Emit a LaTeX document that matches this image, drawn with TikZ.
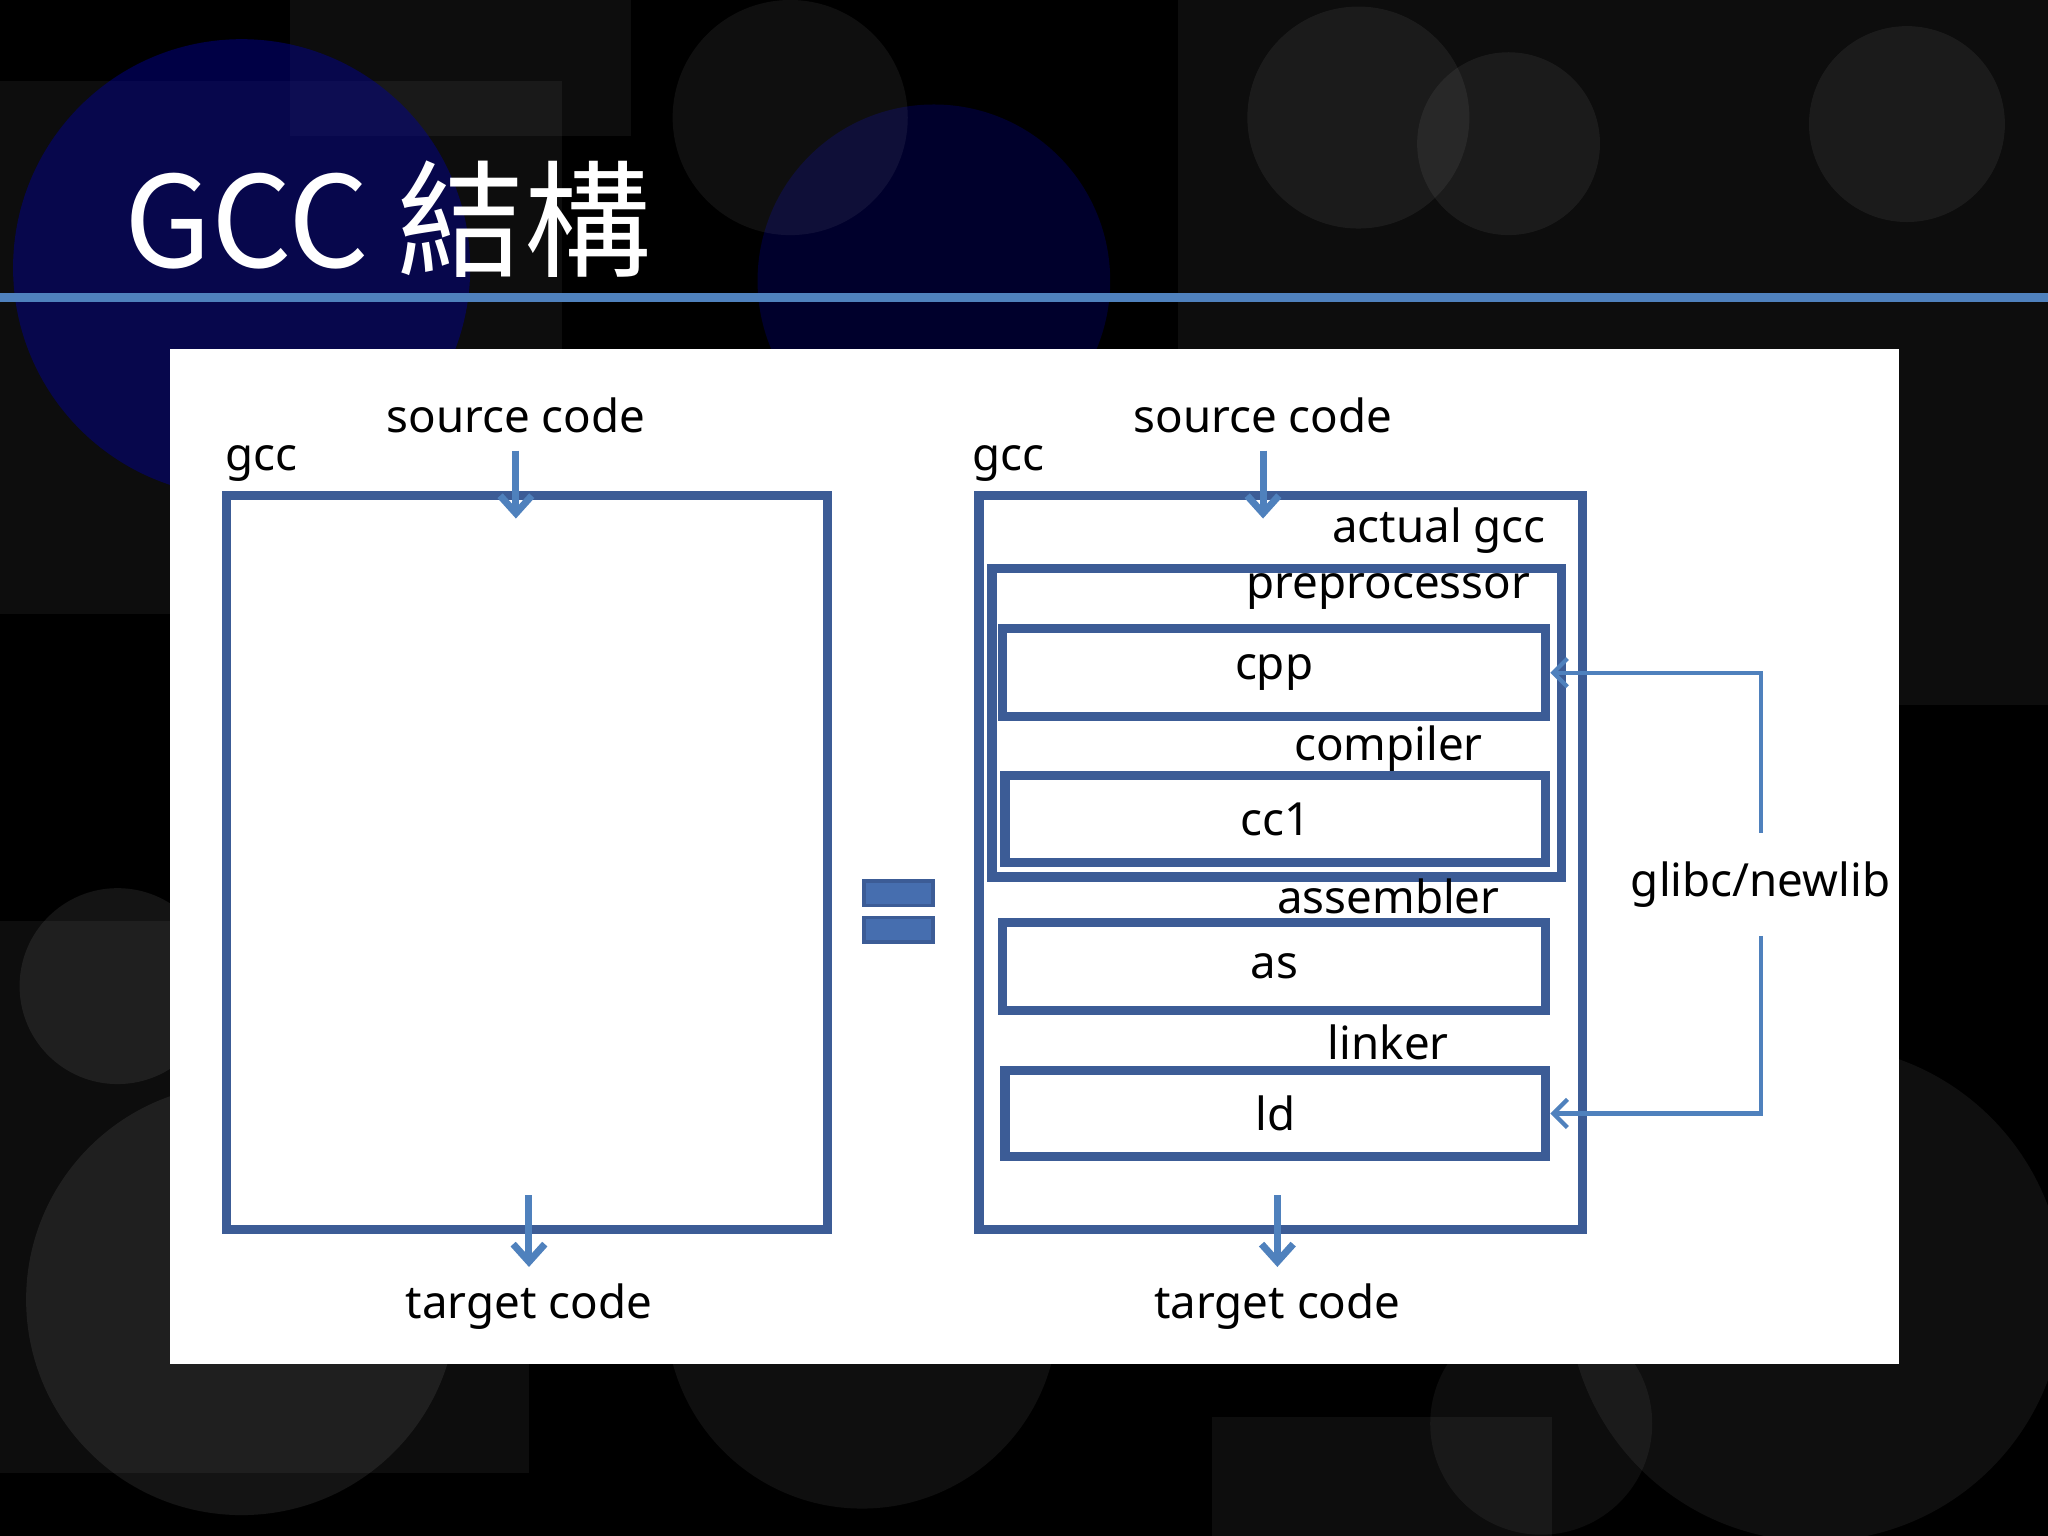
\documentclass[tikz,border=0pt]{standalone}
\usetikzlibrary{arrows.meta}
\usepackage{fontspec}
\setmainfont{Noto Sans}
\newfontfamily\cjk{Noto Sans CJK TC}
\definecolor{bx}{RGB}{60,92,150}
\definecolor{ln}{RGB}{79,129,189}
\definecolor{eqf}{RGB}{70,110,175}
\begin{document}
\begin{tikzpicture}[x=0.013061cm,y=-0.013061cm,
  box/.style={draw=bx,line width=2.6pt},
  lbl/.style={font=\fontsize{13}{15}\selectfont,text=black,inner sep=0pt},
  arr/.style={draw=ln,line width=2pt,-{Straight Barb[length=5pt,width=9pt]}},
  lib/.style={draw=ln,line width=1.2pt}]
\useasboundingbox (0,0) rectangle (1568,1176);
\fill[black] (0,0) rectangle (1568,1176);
% background decoration
\fill[white,opacity=0.05] (0,62) rectangle (430,470);
\fill[white,opacity=0.05] (222,0) rectangle (483,104);
\fill[white,opacity=0.05] (902,0) rectangle (1568,540);
\fill[white,opacity=0.05] (0,705) rectangle (405,1128);
\fill[white,opacity=0.05] (928,1085) rectangle (1188,1176);
\fill[blue!60!black,opacity=0.45] (185,205) circle (175);
\fill[blue!50!black,opacity=0.35] (715,215) circle (135);
\fill[white,opacity=0.06] (605,90) circle (90);
\fill[white,opacity=0.06] (1040,90) circle (85);
\fill[white,opacity=0.06] (1155,110) circle (70);
\fill[white,opacity=0.06] (1460,95) circle (75);
\fill[white,opacity=0.08] (90,755) circle (75);
\fill[white,opacity=0.08] (185,995) circle (165);
\fill[white,opacity=0.06] (660,1005) circle (150);
\fill[white,opacity=0.06] (1390,990) circle (190);
\fill[white,opacity=0.05] (1180,1090) circle (85);
% title
\node[anchor=west,text=white,inner sep=0pt,font=\cjk\fontsize{36}{40}\selectfont] (title) at (95,168) {GCC 結構};
\fill[ln] (0,224) rectangle (1568,231);
% panel
\fill[white] (130,267) rectangle (1454,1044);
% left
\node[box,minimum width=460*0.013061cm,minimum height=562*0.013061cm,anchor=north west] (L) at (170,376) {};
\node[lbl] (srcL) at (395,318) {source code};
\node[lbl,anchor=west] (gccL) at (172,355) {gcc};
\node[lbl] (tgtL) at (405,1000) {target code};
\coordinate (sL) at (395,345); \coordinate (sLe) at (395,397);
\coordinate (tL) at (405,915); \coordinate (tLe) at (405,970);
\draw[arr] (sL) -- (sLe);
\draw[arr] (tL) -- (tLe);
% equal sign
\node[draw=bx,fill=eqf,line width=1pt,minimum width=53*0.013061cm,minimum height=19*0.013061cm,anchor=north west] (eq1) at (660,673) {};
\node[draw=bx,fill=eqf,line width=1pt,minimum width=53*0.013061cm,minimum height=19*0.013061cm,anchor=north west] (eq2) at (660,701) {};
% right
\node[box,minimum width=462*0.013061cm,minimum height=562*0.013061cm,anchor=north west] (R) at (746,376) {};
\node[lbl] (srcR) at (967,318) {source code};
\node[lbl,anchor=west] (gccR) at (744,355) {gcc};
\node[lbl] (tgtR) at (978,1000) {target code};
\coordinate (sR) at (967,345); \coordinate (sRe) at (967,397);
\coordinate (tR) at (978,915); \coordinate (tRe) at (978,970);
\draw[arr] (sR) -- (sRe);
\draw[arr] (tR) -- (tRe);
\node[lbl,anchor=east] (act) at (1184,406) {actual gcc};
\node[box,minimum width=436*0.013061cm,minimum height=236*0.013061cm,anchor=north west] (PC) at (756,432) {};
\node[lbl] (pre) at (1063,453) {preprocessor};
\node[box,minimum width=416*0.013061cm,minimum height=67*0.013061cm,anchor=north west] (cpp) at (764,478) {};
\node[lbl] at (cpp.center) {cpp};
\node[lbl] (comp) at (1063,573) {compiler};
\node[box,minimum width=414*0.013061cm,minimum height=67*0.013061cm,anchor=north west] (cc1) at (766,590) {};
\node[lbl] at (cc1.center) {cc1};
\node[lbl] (asm) at (1063,686) {assembler};
\node[box,minimum width=416*0.013061cm,minimum height=67*0.013061cm,anchor=north west] (as) at (764,703) {};
\node[lbl] at (as.center) {as};
\node[lbl] (lnk) at (1063,798) {linker};
\node[box,minimum width=414*0.013061cm,minimum height=66*0.013061cm,anchor=north west] (ld) at (766,816) {};
\node[lbl] at (ld.center) {ld};
% glibc
\node[lbl] (glib) at (1348,677) {glibc/newlib};
\draw[lib,-{Straight Barb[length=4pt,width=8pt]}] (glib.north) ++(0,8pt) |- (cpp.east);
\draw[lib,-{Straight Barb[length=4pt,width=8pt]}] (glib.south) ++(0,-8pt) |- (ld.east);
\end{tikzpicture}
\end{document}
